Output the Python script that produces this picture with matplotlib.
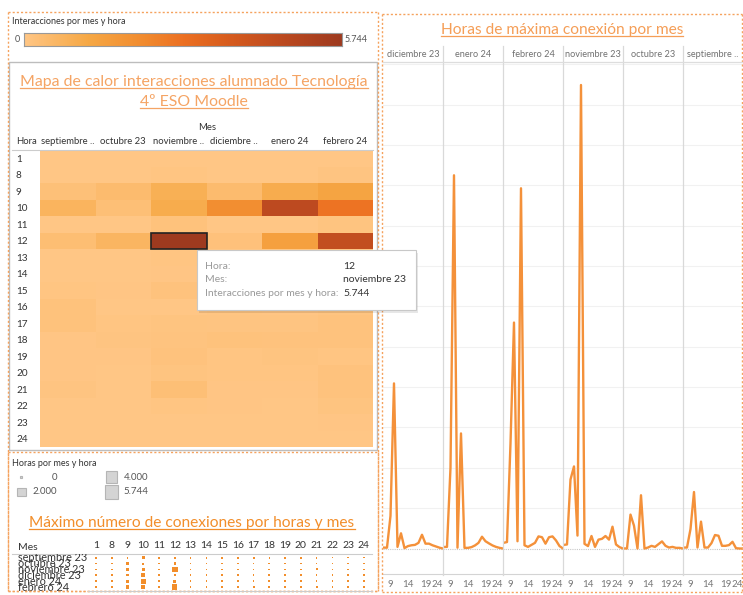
import numpy as np
import matplotlib
matplotlib.use('Agg')
import matplotlib.pyplot as plt
from matplotlib.colors import LinearSegmentedColormap
from matplotlib.patches import Rectangle
from matplotlib.lines import Line2D
from matplotlib.transforms import blended_transform_factory

plt.rcParams['font.family'] = ['Lato', 'DejaVu Sans']

# datos
horas = [1, 8, 9, 10, 11, 12, 13, 14, 15, 16, 17, 18, 19, 20, 21, 22, 23, 24]
meses = ['septiembre 23', 'octubre 23', 'noviembre 23', 'diciembre 23', 'enero 24', 'febrero 24']
cab_heat = ['septiembre ..', 'octubre 23', 'noviembre ..', 'diciembre ..', 'enero 24', 'febrero 24']

sep = [10, 12, 240, 700, 12, 333, 12, 12, 67, 167, 158, 33, 33, 42, 83, 4, 0, 0]
octu = [10, 0, 420, 283, 0, 660, 0, 12, 33, 20, 54, 88, 33, 12, 20, 8, 8, 0]
nov = [10, 50, 855, 1017, 160, 5744, 58, 30, 155, 20, 110, 120, 155, 110, 270, 50, 17, 0]
dic = [20, 10, 404, 2046, 20, 188, 5, 30, 40, 45, 70, 170, 60, 60, 40, 25, 10, 0]
ene = [10, 20, 1000, 4625, 10, 1426, 8, 8, 17, 38, 70, 146, 90, 63, 38, 20, 8, 0]
feb = [10, 80, 1300, 2800, 90, 4464, 40, 20, 45, 70, 150, 140, 60, 140, 150, 100, 30, 0]
series = dict(zip(meses, [sep, octu, nov, dic, ene, feb]))

orden_lineas = ['diciembre 23', 'enero 24', 'febrero 24', 'noviembre 23', 'octubre 23', 'septiembre 23']
cab_lineas = ['diciembre 23', 'enero 24', 'febrero 24', 'noviembre 23', 'octubre 23', 'septiembre ..']
ticks_lineas = [9, 14, 19, 24]
leyenda_tam = [0, 2000, 4000, 5744]
leyenda_txt = ['0', '2.000', '4.000', '5.744']
vmax = 5744

naranja = '#F4913A'
cmap = LinearSegmentedColormap.from_list('tab_orange', [
    (0.0, '#FFC685'), (0.2, '#F6A845'), (0.38, '#F18A2E'), (0.5, '#EC7022'),
    (0.65, '#D65B1E'), (0.8, '#BE4B20'), (1.0, '#9E3A1F')])

W, H = 743, 595
fig = plt.figure(figsize=(W / 100, H / 100), dpi=100)


def caja(x0, y0, x1, y1):
    return [x0 / W, 1 - y1 / H, (x1 - x0) / W, (y1 - y0) / H]


def fx(x):
    return x / W


def fy(y):
    return 1 - y / H


def linea(x0, y0, x1, y1, **kw):
    fig.add_artist(Line2D([fx(x0), fx(x1)], [fy(y0), fy(y1)], **kw))


def borde_punteado(x0, y0, x1, y1):
    kw = dict(color='#F5A25D', lw=1, ls=(0, (1.5, 1.5)))
    linea(x0, y0, x1, y0, **kw)
    linea(x0, y1, x1, y1, **kw)
    linea(x0, y0, x0, y1, **kw)
    linea(x1, y0, x1, y1, **kw)


# bordes de los contenedores
borde_punteado(8, 12, 378, 591)
borde_punteado(8, 452, 378, 591)
borde_punteado(382, 14, 742, 592)
fig.add_artist(Rectangle((fx(9), fy(450)), (377 - 9) / W, (450 - 62) / H, fill=False,
                         ec='#BDBDBD', lw=1))

# leyenda de color
fig.text(fx(12), fy(21), 'Interacciones por mes y hora', fontsize=6.5, color='#333', va='center')
axl = fig.add_axes(caja(24, 33, 342, 46))
axl.imshow(np.linspace(0, vmax, 256)[None, :], aspect='auto', cmap=cmap, vmin=0, vmax=vmax)
axl.set_xticks([])
axl.set_yticks([])
for s in axl.spines.values():
    s.set_color('#999')
    s.set_linewidth(0.8)
fig.text(fx(17), fy(39.5), '0', fontsize=6.5, color='#555', ha='center', va='center')
fig.text(fx(345), fy(39.5), '5.744', fontsize=6.5, color='#555', ha='left', va='center')

# titulos (subrayados despues)
titulos = []
titulos.append((fig.text(fx(194), fy(86), 'Mapa de calor interacciones alumnado Tecnología', fontsize=11.4,
                         color='#F5A464', ha='center', va='baseline'), 86, '#F5A464'))
titulos.append((fig.text(fx(194), fy(106), '4º ESO Moodle', fontsize=11.4,
                         color='#F5A464', ha='center', va='baseline'), 106, '#F5A464'))
titulos.append((fig.text(fx(562), fy(34), 'Horas de máxima conexión por mes', fontsize=11.2,
                         color='#F59E57', ha='center', va='baseline'), 34, '#F59E57'))
titulos.append((fig.text(fx(192), fy(527), 'Máximo número de conexiones por horas y mes', fontsize=11.2,
                         color='#F28E2B', ha='center', va='baseline'), 527, '#F28E2B'))

# mapa de calor
datos = np.array([series[m] for m in meses]).T
axh = fig.add_axes(caja(40, 150, 373, 447))
axh.pcolormesh(datos, cmap=cmap, vmin=0, vmax=vmax)
axh.set_xlim(0, len(meses))
axh.set_ylim(len(horas), 0)
r12 = horas.index(12)
c_nov = meses.index('noviembre 23')
axh.add_patch(Rectangle((c_nov, r12), 1, 1, fill=False, ec='#222', lw=1.2))
axh.set_yticks(np.arange(len(horas)) + 0.5, [str(h) for h in horas])
axh.xaxis.set_ticks_position('top')
axh.set_xticks(np.arange(len(meses)) + 0.5, cab_heat)
axh.tick_params(axis='y', length=0, pad=17.3, labelsize=7.2, labelcolor='#333')
axh.tick_params(axis='x', length=0, pad=3, labelsize=6.8, labelcolor='#333')
for t in axh.get_yticklabels():
    t.set_horizontalalignment('left')
for s in axh.spines.values():
    s.set_visible(False)
fig.text(fx(207), fy(127), 'Mes', fontsize=6.8, color='#333', ha='center', va='center')
fig.text(fx(16), fy(142), 'Hora', fontsize=6.8, color='#333', ha='left', va='center')
linea(12, 149.5, 373, 149.5, color='#CCCCCC', lw=0.8)

# lineas por mes
for i, mes in enumerate(orden_lineas):
    x0 = 383 + 60 * i
    a = fig.add_axes(caja(x0, 62, x0 + 60, 574))
    a.plot(horas, series[mes], color=naranja, lw=1.7)
    a.set_xlim(6.86, 24)
    a.set_ylim(-316, 6029)
    a.set_yticks(np.arange(500, 6001, 500))
    a.yaxis.grid(True, color='#F1F1F1', lw=0.8)
    a.set_axisbelow(True)
    a.axhline(0, color='#C8C8C8', lw=0.8, ls=(0, (1, 1)), zorder=1)
    a.set_xticks(ticks_lineas, [str(t) for t in ticks_lineas])
    a.tick_params(axis='x', length=0, pad=4, labelsize=7, labelcolor='#777')
    a.tick_params(axis='y', length=0, labelleft=False)
    a.get_xticklabels()[-1].set_horizontalalignment('right')
    for k in ['top', 'left', 'right']:
        a.spines[k].set_visible(False)
    a.spines['bottom'].set_color('#D4D4D4')
    a.patch.set_alpha(0)
    fig.text(fx(x0 + 30), fy(54.5), cab_lineas[i], fontsize=6.6, color='#707070', ha='center', va='center')
    if i > 0:
        linea(x0, 46, x0, 575, color='#D9D9D9', lw=0.9)
linea(383, 62, 742, 62, color='#DDDDDD', lw=0.9)

# leyenda de tamaño
fig.text(fx(12), fy(463), 'Horas por mes y hora', fontsize=6.5, color='#333', va='center')
pos_leyenda = [(21, 477, 57), (21.5, 492, 57), (111.5, 477, 148), (111.5, 492, 148)]
for (cx, cy, tx), v, txt in zip(pos_leyenda, leyenda_tam, leyenda_txt):
    lado = 2 + 11.5 * np.sqrt(v / vmax)
    fig.add_artist(Rectangle((fx(cx - lado / 2), fy(cy + lado / 2)), lado / W, lado / H,
                             fc='#D4D4D4', ec='#B5B5B5', lw=0.8))
    fig.text(fx(tx), fy(cy), txt, fontsize=7, color='#555', ha='right', va='center')

# puntos: maximo numero de conexiones
axd = fig.add_axes(caja(12, 554, 372, 591))
n_h = len(horas)
esp = 15.76
axd.set_xlim(-84 / esp, -84 / esp + 360 / esp)
esp_y = 5.86
axd.set_ylim(-3.7 / esp_y + 37 / esp_y, -3.7 / esp_y)
for r, mes in enumerate(meses):
    v = np.array(series[mes])
    axd.scatter(np.arange(n_h), [r] * n_h, s=1.3 + 16 * v / vmax, marker='s', color='#F28E2B', lw=0)
    axd.text(6 / 360, r + 0.05, mes, transform=blended_transform_factory(axd.transAxes, axd.transData),
             fontsize=7.8, color='#333', ha='left', va='center', clip_on=True)
axd.xaxis.set_ticks_position('top')
axd.set_xticks(np.arange(n_h), [str(h) for h in horas])
axd.tick_params(axis='x', length=0, pad=3, labelsize=7.5, labelcolor='#333')
axd.set_yticks([])
for k in ['bottom', 'left', 'right']:
    axd.spines[k].set_visible(False)
axd.spines['top'].set_color('#CCCCCC')
axd.patch.set_alpha(0)
fig.text(fx(18), fy(547), 'Mes', fontsize=7.5, color='#333', ha='left', va='center')
linea(88, 591, 372, 591, color='#CCCCCC', lw=0.8)

# tooltip
fig.add_artist(Rectangle((fx(199), fy(313)), 219 / W, 60 / H, fc='#00000018', ec='none', zorder=10))
fig.add_artist(Rectangle((fx(197), fy(310)), 219 / W, 60 / H, fc='white', ec='#C8C8C8', lw=0.8, zorder=11))
for y, lab, val in [(266.5, 'Hora:', '12'), (280, 'Mes:', 'noviembre 23'),
                    (294, 'Interacciones por mes y hora:', '5.744')]:
    fig.text(fx(205), fy(y), lab, fontsize=7.5, color='#999', va='center', zorder=12)
    fig.text(fx(343), fy(y), val, fontsize=7.5, color='#333', va='center', zorder=12)

# subrayado de titulos
fig.canvas.draw()
rend = fig.canvas.get_renderer()
for t, yb, col in titulos:
    bb = t.get_window_extent(rend)
    linea(bb.x0 * 100 / fig.dpi, yb + 2, bb.x1 * 100 / fig.dpi, yb + 2, color=col, lw=0.9)

fig.savefig('out.png', dpi=100)
